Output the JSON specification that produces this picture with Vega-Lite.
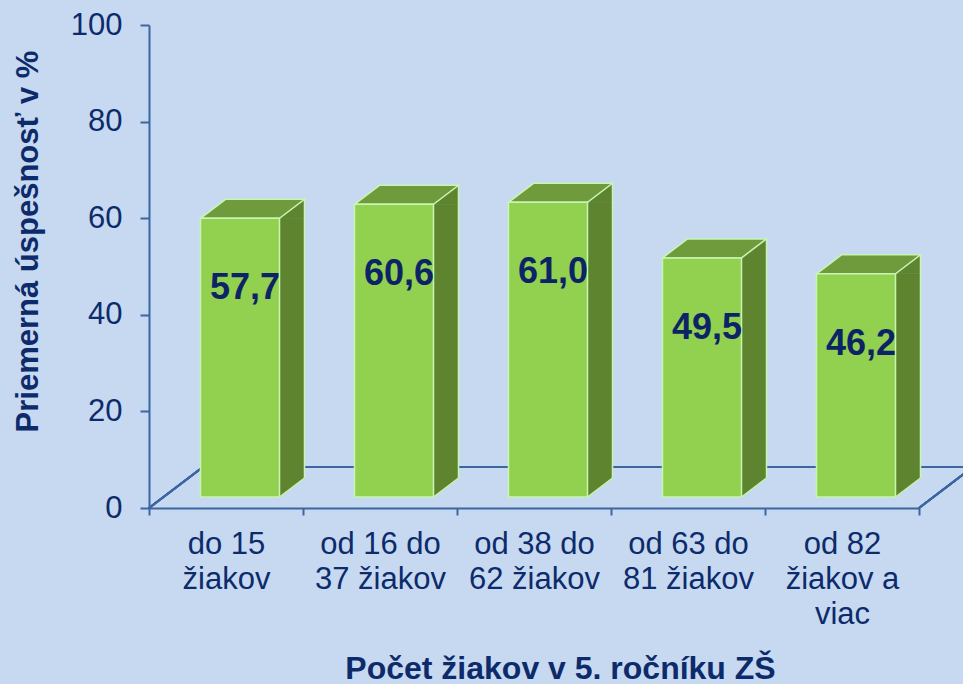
{
  "$schema": "https://vega.github.io/schema/vega-lite/v6.json",
  "width": 770,
  "height": 483,
  "autosize": "none",
  "padding": {"left": 149, "top": 25, "right": 44, "bottom": 176},
  "background": "#c6d9f1",
  "config": {
    "view": {"stroke": null},
    "font": "Liberation Sans",
    "locale": {"number": {"decimal": ",", "thousands": " ", "grouping": [3], "currency": ["", " €"]}}
  },
  "data": {
    "values": [
      {"kategoria": "do 15\nžiakov", "uspesnost": 57.7},
      {"kategoria": "od 16 do\n37 žiakov", "uspesnost": 60.6},
      {"kategoria": "od 38 do\n62 žiakov", "uspesnost": 61.0},
      {"kategoria": "od 63 do\n81 žiakov", "uspesnost": 49.5},
      {"kategoria": "od 82\nžiakov a\nviac", "uspesnost": 46.2}
    ]
  },
  "encoding": {
    "x": {
      "field": "kategoria",
      "type": "nominal",
      "sort": null,
      "scale": {"paddingInner": 0, "paddingOuter": 0},
      "axis": {
        "title": "Počet žiakov v 5. ročníku ZŠ",
        "titleFont": "Liberation Sans",
        "titleFontSize": 32,
        "titleFontWeight": "bold",
        "titleColor": "#0d2b6b",
        "titleX": 411,
        "titleY": 160,
        "titleBaseline": "middle",
        "labelAngle": 0,
        "labelExpr": "split(datum.label, '\\n')",
        "labelFont": "Liberation Sans",
        "labelFontSize": 31,
        "labelColor": "#0d2b6b",
        "labelLineHeight": 35,
        "labelPadding": 14,
        "labelLimit": 0,
        "domainColor": "#3b66a0",
        "domainWidth": 2,
        "tickColor": "#3b66a0",
        "tickWidth": 2,
        "tickSize": 7,
        "tickBand": "extent"
      }
    },
    "y": {
      "field": "uspesnost",
      "type": "quantitative",
      "scale": {"domain": [0, 100], "nice": false, "zero": true},
      "axis": {
        "title": "Priemerná úspešnosť v %",
        "titleFont": "Liberation Sans",
        "titleFontSize": 31,
        "titleFontWeight": "bold",
        "titleColor": "#0d2b6b",
        "titleX": -121,
        "titleY": 216,
        "titleBaseline": "middle",
        "titleAngle": -90,
        "values": [0, 20, 40, 60, 80, 100],
        "format": "d",
        "grid": false,
        "labelFont": "Liberation Sans",
        "labelFontSize": 31,
        "labelColor": "#0d2b6b",
        "labelPadding": 18,
        "domainColor": "#3b66a0",
        "domainWidth": 2,
        "tickColor": "#3b66a0",
        "tickWidth": 2,
        "tickSize": 9
      }
    }
  },
  "layer": [
    {
      "mark": {"type": "point", "shape": "M -77 0 L -23 -41 L 747 -41 M 693 0 L 747 -41", "size": 4, "filled": false, "stroke": "#3b66a0", "strokeWidth": 2, "opacity": 1},
      "encoding": {
        "x": {"datum": "do 15\nžiakov"},
        "y": {"datum": 0}
      }
    },
    {
      "mark": {"type": "bar", "width": 25, "xOffset": 66, "yOffset": -11, "y2Offset": -30, "fill": "#5e8430", "stroke": "#5e8430", "strokeWidth": 0.5},
      "encoding": {"y2": {"datum": 0}}
    },
    {
      "mark": {"type": "point", "shape": "M 53.5 -11 L 78.5 -30 L 78.5 -11 Z", "size": 4, "filled": true, "fill": "#5e8430", "stroke": "#5e8430", "strokeWidth": 0.5, "opacity": 1}
    },
    {
      "mark": {"type": "point", "shape": "M 53.5 -11 L 78.5 -30 L 53.5 -30 Z", "size": 4, "filled": true, "fill": "#5e8430", "stroke": "#5e8430", "strokeWidth": 0.5, "opacity": 1},
      "encoding": {"y": {"datum": 0}}
    },
    {
      "mark": {"type": "rule", "xOffset": 78.5, "yOffset": -30, "y2Offset": -30, "stroke": "#c8f5b4", "strokeWidth": 1.5},
      "encoding": {"y2": {"datum": 0}}
    },
    {
      "mark": {"type": "point", "shape": "M 53.5 -11 L 78.5 -30", "size": 4, "filled": false, "stroke": "#c8f5b4", "strokeWidth": 1.5, "opacity": 1},
      "encoding": {"y": {"datum": 0}}
    },
    {
      "mark": {"type": "point", "shape": "M -25.5 -11 L 53.5 -11 L 78.5 -30 L -0.5 -30 Z", "size": 4, "filled": true, "fill": "#6f9b3c", "stroke": "#c8f5b4", "strokeWidth": 1.5, "opacity": 1}
    },
    {
      "mark": {"type": "bar", "width": 79, "xOffset": 14, "yOffset": -11, "y2Offset": -11, "fill": "#92d050", "stroke": "#c8f5b4", "strokeWidth": 1.5},
      "encoding": {"y2": {"datum": 0}}
    },
    {
      "mark": {"type": "text", "xOffset": 19, "yOffset": 59, "fontSize": 36, "fontWeight": "bold", "font": "Liberation Sans", "color": "#0c2466"},
      "encoding": {"text": {"field": "uspesnost", "type": "quantitative", "format": ".1f"}}
    }
  ]
}
